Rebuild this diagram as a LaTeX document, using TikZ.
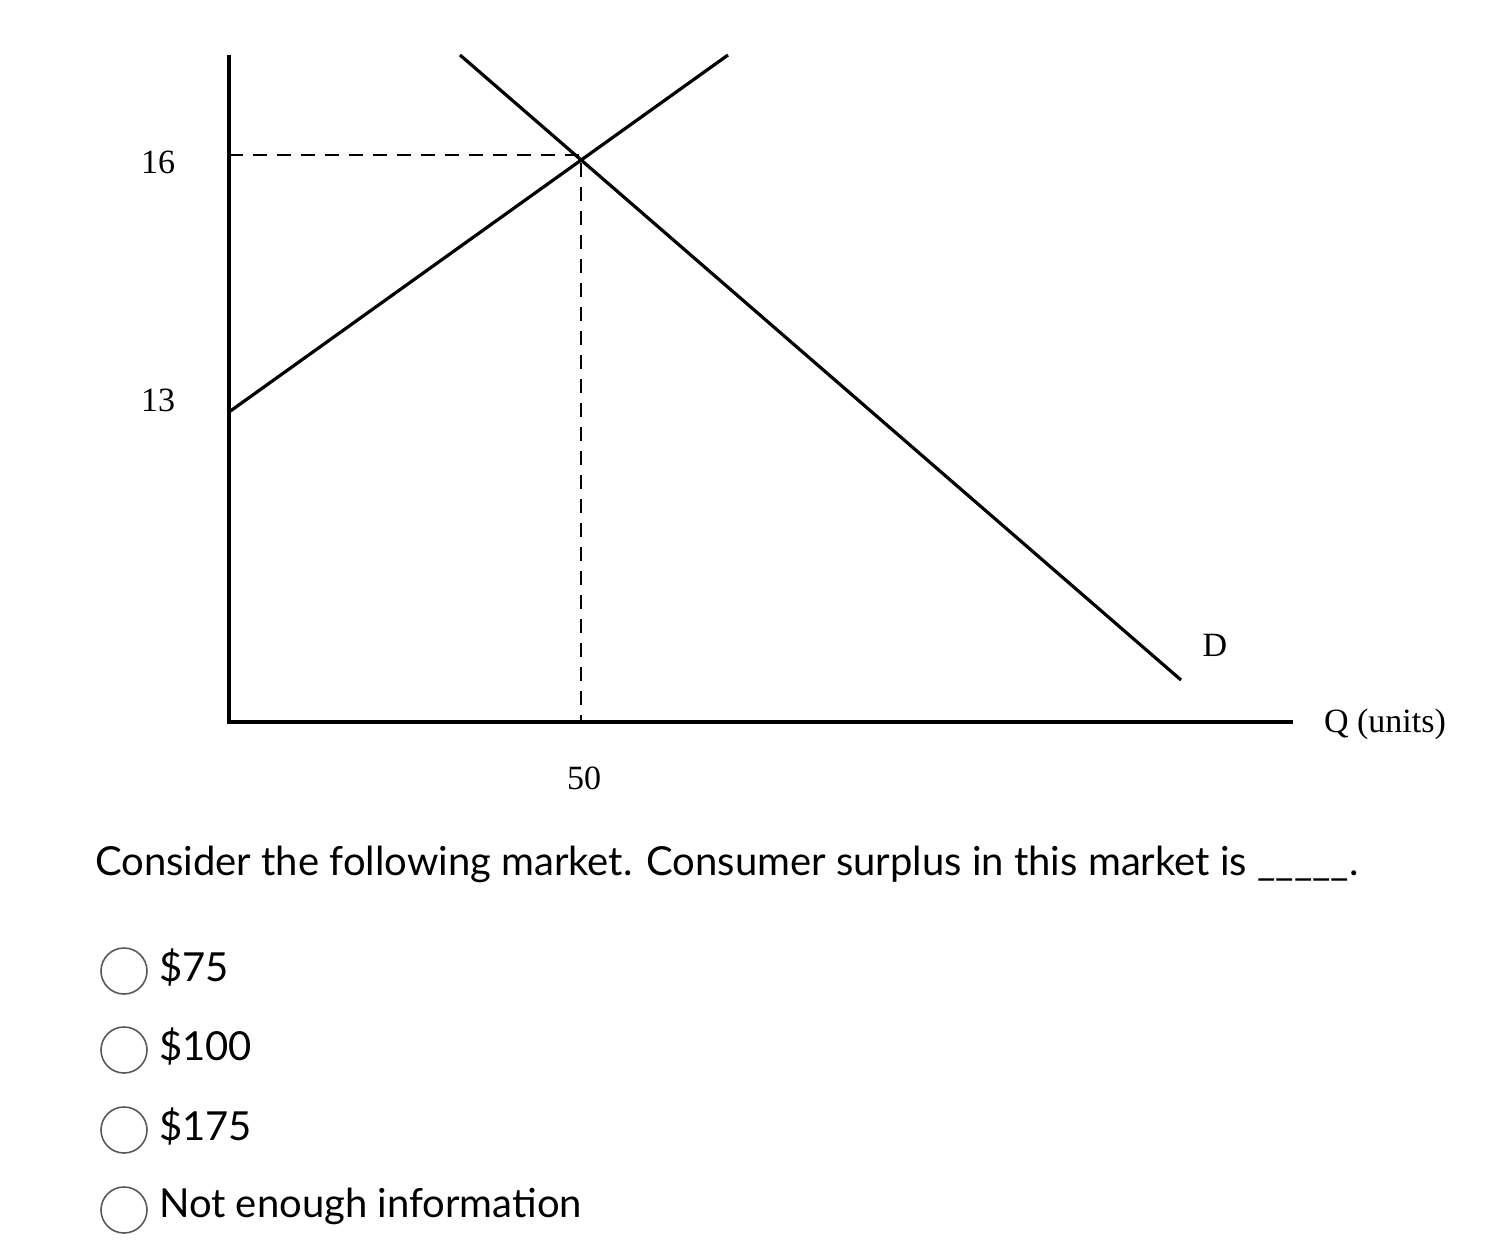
\documentclass[tikz,border=0pt]{standalone}
\usepackage{fontspec}
\setmainfont{Liberation Serif}
\newfontfamily\lato{Lato}
\begin{document}
\begin{tikzpicture}[x=0.5pt,y=-0.5pt,
  curve/.style={line width=1.6pt,black},
  guide/.style={line width=1.2pt,dash pattern=on 7pt off 5pt},
  tick/.style={font=\fontsize{17}{20}\selectfont},
  qtext/.style={font=\lato\fontsize{20}{24}\selectfont,anchor=west},
  radio/.style={circle,draw=gray!70!black,line width=0.8pt,minimum size=23pt,inner sep=0pt}]
\useasboundingbox (0,0) rectangle (1493,1258);
\coordinate (ytop) at (229,55);
\coordinate (o) at (229,722);
\coordinate (xend) at (1293,722);
\coordinate (s0) at (229,412);
\coordinate (s1) at (728,55);
\coordinate (d0) at (460,55);
\coordinate (d1) at (1181,680);
\coordinate (e) at (581,155);
\coordinate (ey) at (229,155);
\coordinate (ex) at (581,722);
\draw[curve] (ytop) -- (o) -- (xend);
\draw[curve] (s0) -- (s1);
\draw[curve] (d0) -- (d1);
\draw[guide] (ey) -- (e) -- (ex);
\node[tick] (l16) at (158,162) {16};
\node[tick] (l13) at (158,400) {13};
\node[tick] (l50) at (584,778) {50};
\node[tick] (lD) at (1215,645) {D};
\node[tick] (lQ) at (1385,724) {Q (units)};
\node[qtext] (q) at (88,864) {Consider the following market. Consumer surplus in this market is \_\_\_\_\_.};
\foreach \i/\y/\t in {a/971/\$75,b/1050/\$100,c/1130/\$175,d/1210/Not enough information}{
  \node[radio] (r\i) at (124,\y) {};
  \node[qtext] (t\i) at (152,\y-4) {\t};
}
\end{tikzpicture}
\end{document}
